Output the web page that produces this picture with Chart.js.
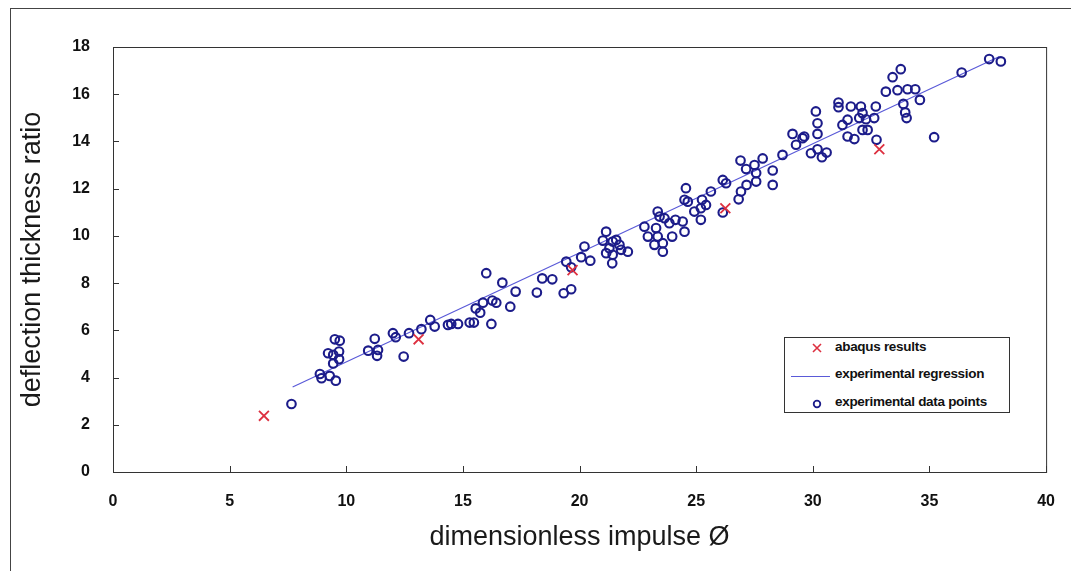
<!DOCTYPE html>
<html>
<head>
<meta charset="utf-8">
<script src="https://cdn.jsdelivr.net/npm/chart.js@4.4.1/dist/chart.umd.min.js"></script>
<style>
  html, body { margin: 0; padding: 0; background: #fff; }
  #wrap { position: relative; width: 1075px; height: 572px; }
  #frame { position: absolute; left: 10px; top: 8px; width: 1060px; height: 562px;
           border-left: 1px solid #444; border-top: 1px solid #444; pointer-events: none; }
  #legend { position: absolute; left: 784px; top: 337px; width: 226px; height: 76px;
            border: 1px solid #333; background: #fff; box-sizing: border-box;
            font: bold 13.5px "Liberation Sans", Arial, sans-serif; color: #111; }
  #legend .row { position: absolute; left: 0; height: 20px; width: 100%; }
  #legend svg { position: absolute; left: 5px; top: 0; }
  #legend span { position: absolute; left: 50px; top: 1px; white-space: nowrap; letter-spacing: -0.3px; }
</style>
</head>
<body>
<div id="wrap">
  <canvas id="chart" width="1075" height="572"></canvas>
  <div id="frame"></div>
  <div id="legend"></div>
</div>
<script>
// experimental data points (dimensionless impulse, deflection thickness ratio)
const expX = [7.65, 8.87, 8.94, 9.29, 9.55, 9.51, 9.72, 9.22, 9.44, 9.69, 9.44, 9.69,
  11.22, 10.94, 11.36, 11.32, 12.0, 12.12, 12.69, 12.46, 13.22, 13.6, 13.79, 14.36,
  14.5, 14.79, 15.29, 15.47, 15.55, 15.74, 15.86, 16.22, 16.26, 16.43, 16.0, 16.69,
  17.03, 17.26, 18.17, 18.4, 18.83, 19.32, 19.64, 19.43, 19.64, 20.07, 20.46, 20.21,
  21.0, 21.14, 21.14, 21.42, 21.57, 21.71, 21.28, 21.42, 21.78, 22.07, 21.4, 22.78,
  22.93, 23.28, 23.35, 23.21, 23.57, 23.57, 23.35, 23.43, 23.64, 23.85, 23.97, 24.11,
  24.42, 24.5, 24.56, 24.5, 24.64, 24.92, 25.25, 25.2, 25.42, 25.2, 25.63, 26.14,
  26.14, 26.28, 26.9, 27.85, 27.5, 27.14, 27.57, 28.28, 28.28, 27.57, 27.16, 26.92,
  26.82, 28.7, 29.28, 29.13, 29.56, 29.63, 30.13, 30.2, 30.2, 29.92, 30.2, 30.39,
  30.59, 31.1, 31.1, 31.27, 31.49, 31.63, 31.49, 31.78, 32.06, 32.13, 31.99, 32.28,
  32.13, 32.35, 32.63, 32.7, 32.73, 33.13, 33.42, 33.77, 33.63, 34.06, 34.39, 33.88,
  33.96, 34.02, 34.59, 35.2, 36.38, 37.56, 38.06];
const expY = [2.88, 4.15, 3.97, 4.07, 3.87, 5.62, 5.56, 5.03, 4.96, 5.1, 4.6, 4.78,
  5.64, 5.14, 5.17, 4.92, 5.88, 5.71, 5.88, 4.89, 6.05, 6.44, 6.16, 6.23,
  6.27, 6.27, 6.33, 6.33, 6.93, 6.75, 7.17, 6.27, 7.26, 7.17, 8.42, 8.02,
  7.0, 7.64, 7.6, 8.2, 8.16, 7.57, 7.74, 8.91, 8.67, 9.1, 8.95, 9.55,
  9.8, 9.27, 10.18, 9.76, 9.83, 9.62, 9.48, 9.2, 9.41, 9.33, 8.84, 10.39,
  9.97, 10.33, 9.97, 9.62, 9.69, 9.33, 11.03, 10.82, 10.75, 10.54, 9.97, 10.68,
  10.61, 10.18, 12.02, 11.53, 11.45, 11.03, 11.53, 11.17, 11.31, 10.68, 11.88, 10.99,
  12.37, 12.23, 13.19, 13.28, 13.0, 12.83, 12.66, 12.77, 12.16, 12.3, 12.16, 11.88,
  11.55, 13.43, 13.86, 14.32, 14.14, 14.21, 15.27, 14.77, 14.32, 13.5, 13.67, 13.33,
  13.53, 15.65, 15.45, 14.7, 14.92, 15.48, 14.21, 14.1, 15.48, 15.2, 14.99, 14.94,
  14.49, 14.49, 14.99, 15.48, 14.07, 16.11, 16.72, 17.06, 16.17, 16.21, 16.21, 15.59,
  15.23, 14.99, 15.76, 14.18, 16.92, 17.49, 17.39];

// abaqus results
const abaqusX = [6.47, 13.1, 19.7, 26.25, 32.85];
const abaqusY = [2.38, 5.62, 8.55, 11.17, 13.67];

// experimental regression line end points
const regX = [7.7, 38.0];
const regY = [3.6, 17.6];

const xTicks = { min: 0, max: 40, step: 5 };
const yTicks = { min: 0, max: 18, step: 2 };

const zip = (xs, ys) => xs.map((x, i) => ({ x: x, y: ys[i] }));

const fontFam = '"Liberation Sans", Arial, sans-serif';
const navy = '#1c1c8a';
const red = '#dd3040';
const lineBlue = '#5a5ad8';

// plot frame plus short inward tick marks
const frameTicks = {
  id: 'frameTicks',
  afterDraw(chart) {
    const ctx = chart.ctx;
    const a = chart.chartArea;
    const xs = chart.scales.x;
    const ys = chart.scales.y;
    ctx.save();
    ctx.strokeStyle = '#333';
    ctx.lineWidth = 1;
    ctx.strokeRect(a.left + 0.5, a.top + 0.5, a.right - a.left, a.bottom - a.top);
    ctx.beginPath();
    xs.ticks.forEach(t => {
      const px = Math.round(xs.getPixelForValue(t.value)) + 0.5;
      ctx.moveTo(px, a.bottom);
      ctx.lineTo(px, a.bottom - 6);
    });
    ys.ticks.forEach(t => {
      const py = Math.round(ys.getPixelForValue(t.value)) + 0.5;
      ctx.moveTo(a.left, py);
      ctx.lineTo(a.left + 6, py);
    });
    ctx.stroke();
    ctx.restore();
  }
};

const chart = new Chart(document.getElementById('chart'), {
  type: 'scatter',
  data: {
    datasets: [
      {
        label: 'abaqus results',
        data: zip(abaqusX, abaqusY),
        pointStyle: 'crossRot',
        pointRadius: 7,
        borderColor: red,
        borderWidth: 1.8,
        order: 0
      },
      {
        label: 'experimental regression',
        type: 'line',
        data: zip(regX, regY),
        borderColor: lineBlue,
        borderWidth: 1.2,
        pointRadius: 0,
        fill: false,
        order: 2
      },
      {
        label: 'experimental data points',
        data: zip(expX, expY),
        pointStyle: 'circle',
        pointRadius: 4.3,
        borderColor: navy,
        backgroundColor: 'rgba(0,0,0,0)',
        borderWidth: 2.1,
        order: 1
      }
    ]
  },
  options: {
    responsive: false,
    animation: false,
    layout: { padding: { left: 0, right: 28, top: 47, bottom: 0 } },
    plugins: { legend: { display: false }, tooltip: { enabled: false } },
    scales: {
      x: {
        type: 'linear',
        min: xTicks.min, max: xTicks.max,
        ticks: { stepSize: xTicks.step, color: '#111', padding: 20,
                 font: { family: fontFam, size: 16, weight: 'bold' } },
        grid: { display: false, drawTicks: false },
        border: { display: false },
        title: { display: true, text: 'dimensionless impulse Ø', color: '#1a1a1a',
                 font: { family: fontFam, size: 27 }, padding: { top: 0, bottom: 18 } },
        afterFit(s) { s.height = 100; }
      },
      y: {
        type: 'linear',
        min: yTicks.min, max: yTicks.max,
        ticks: { stepSize: yTicks.step, color: '#111', padding: 23,
                 font: { family: fontFam, size: 16, weight: 'bold' } },
        grid: { display: false, drawTicks: false },
        border: { display: false },
        title: { display: true, text: 'deflection thickness ratio', color: '#1a1a1a',
                 font: { family: fontFam, size: 27 }, padding: { top: 16, bottom: 0 } },
        afterFit(s) { s.width = 113; }
      }
    }
  },
  plugins: [frameTicks]
});

// legend box built from the dataset labels
const legend = document.getElementById('legend');
const markers = [
  '<svg width="40" height="20"><path d="M23 6 L31 14 M31 6 L23 14" stroke="' + red + '" stroke-width="1.6"/></svg>',
  '<svg width="40" height="20"><path d="M1 11.5 L41 11.5" stroke="' + lineBlue + '" stroke-width="1"/></svg>',
  '<svg width="40" height="20"><circle cx="27" cy="11" r="3.3" fill="none" stroke="' + navy + '" stroke-width="1.8"/></svg>'
];
const rowTops = [0, 27, 55];
chart.data.datasets.forEach((ds, i) => {
  const row = document.createElement('div');
  row.className = 'row';
  row.style.top = rowTops[i] + 'px';
  row.innerHTML = markers[i] + '<span>' + ds.label + '</span>';
  legend.appendChild(row);
});
</script>
</body>
</html>
